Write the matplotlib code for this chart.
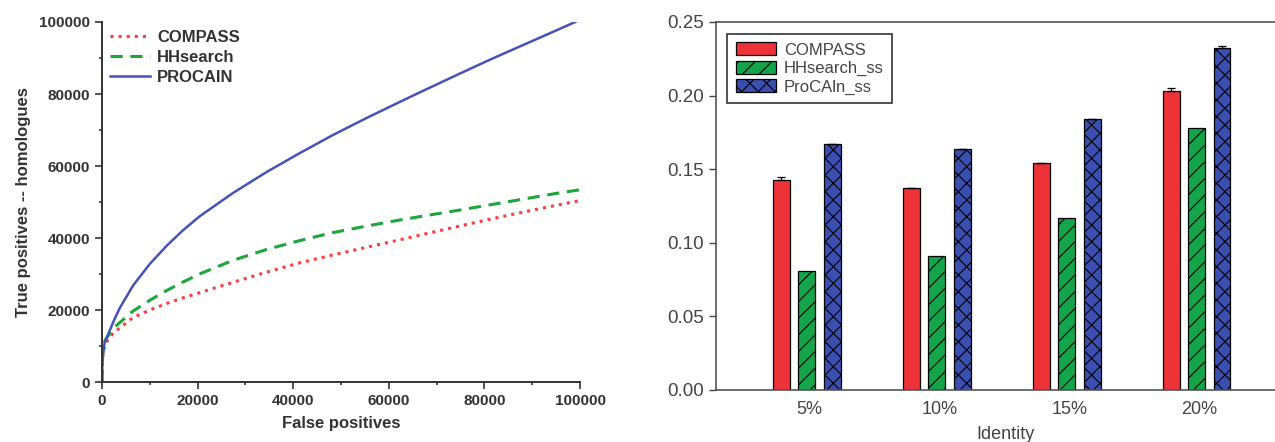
import numpy as np
import matplotlib
matplotlib.use('Agg')
import matplotlib.pyplot as plt
from matplotlib.ticker import MultipleLocator

plt.rcParams['font.family'] = ['Liberation Sans', 'DejaVu Sans']
plt.rcParams['hatch.linewidth'] = 0.8

# left panel: ROC-like curves
compass_fp = [0, 100, 600, 2300, 3700, 6500, 10000, 13500, 17000, 20400, 27400, 34400,
              41400, 48300, 55300, 62300, 67200, 74100, 81100, 88100, 95100, 100000]
compass_tp = [0, 6500, 10500, 13500, 15000, 17900, 20000, 21800, 23400, 24800, 27700, 30500,
              33100, 35300, 37400, 39500, 41000, 43100, 45200, 47200, 49100, 50400]

hhsearch_fp = [0, 100, 600, 2300, 3700, 6500, 10000, 13500, 17000, 20400, 27400, 34400,
               41400, 48300, 55300, 62300, 67200, 74100, 81100, 88100, 95100, 100000]
hhsearch_tp = [0, 7000, 11500, 14800, 16500, 19700, 22700, 25400, 27800, 30000, 33800, 36800,
               39300, 41500, 43300, 45000, 46100, 47600, 49200, 50800, 52400, 53400]

procain_fp = [0, 100, 560, 2300, 3700, 6500, 10000, 13500, 16900, 20400, 27400, 34400,
              41400, 48300, 55300, 62300, 67200, 74100, 81100, 88100, 95100, 99000]
procain_tp = [0, 7000, 10900, 16500, 20500, 26800, 32800, 37800, 42100, 46000, 52500, 58300,
              63600, 68600, 73300, 77800, 80900, 85200, 89500, 93600, 97700, 100000]

# right panel: bar chart
identity = ['5%', '10%', '15%', '20%']
compass_bar = [0.143, 0.137, 0.154, 0.203]
compass_err = [0.0015, 0.0, 0.0, 0.002]
hhsearch_ss = [0.081, 0.091, 0.117, 0.178]
procaln_ss = [0.167, 0.164, 0.184, 0.232]
procaln_err = [0.0, 0.0, 0.0, 0.0015]

text_col = '#333333'

fig = plt.figure(figsize=(12.75, 4.42), dpi=100)

# ---- left ----
ax1 = fig.add_axes([102 / 1275, 60 / 442, 478 / 1275, 360 / 442])
ax1.plot(compass_fp, compass_tp, ':', color='#ff3b3b', lw=2.2, label='COMPASS')
ax1.plot(hhsearch_fp, hhsearch_tp, '--', color='#1ea53c', lw=2.2, dashes=(4, 2.5), label='HHsearch')
ax1.plot(procain_fp, procain_tp, '-', color='#4653b5', lw=1.8, label='PROCAIN')
ax1.set_xlim(0, 100000)
ax1.set_ylim(0, 100000)
ax1.xaxis.set_major_locator(MultipleLocator(20000))
ax1.yaxis.set_major_locator(MultipleLocator(20000))
ax1.xaxis.set_minor_locator(MultipleLocator(10000))
ax1.yaxis.set_minor_locator(MultipleLocator(10000))
ax1.tick_params(which='major', direction='out', length=5, width=1.2, colors='#333333',
                labelsize=11)
ax1.tick_params(which='minor', direction='out', length=2.5, width=1.2, color='#333333')
for lab in ax1.get_xticklabels() + ax1.get_yticklabels():
    lab.set_fontweight('bold')
ax1.spines['top'].set_visible(False)
ax1.spines['right'].set_visible(False)
for s in ['left', 'bottom']:
    ax1.spines[s].set_linewidth(1.4)
    ax1.spines[s].set_color('#333333')
ax1.set_xlabel('False positives', fontsize=12, fontweight='bold', color=text_col, labelpad=6)
ax1.set_ylabel('True positives -- homologues', fontsize=12, fontweight='bold', color=text_col,
               labelpad=6)
leg1 = ax1.legend(loc='upper left', bbox_to_anchor=(0.0, 1.0), frameon=False, fontsize=12,
                  handlelength=2.4, handletextpad=0.4, labelspacing=0.3, borderaxespad=0.1)
for t in leg1.get_texts():
    t.set_fontweight('bold')
    t.set_color(text_col)

# ---- right ----
ax2 = fig.add_axes([716 / 1275, 52 / 442, 578 / 1275, 368 / 442])
x = np.arange(1, len(identity) + 1)
w = 0.13
step = 0.196
ax2.bar(x - step, compass_bar, w, color='#ee3338', edgecolor='black', lw=0.9,
        yerr=[[0] * 4, compass_err], capsize=3,
        error_kw={'elinewidth': 0.9, 'capthick': 0.9}, label='COMPASS')
ax2.bar(x, hhsearch_ss, w, color='#14a54a', edgecolor='black', lw=0.9, hatch='//',
        label='HHsearch_ss')
ax2.bar(x + step, procaln_ss, w, color='#3a4fb0', edgecolor='black', lw=0.9, hatch='xx',
        yerr=[[0] * 4, procaln_err], capsize=3,
        error_kw={'elinewidth': 0.9, 'capthick': 0.9}, label='ProCAln_ss')
ax2.set_xlim(0.3, 4.75)
ax2.set_ylim(0, 0.25)
ax2.yaxis.set_major_locator(MultipleLocator(0.05))
ax2.yaxis.set_major_formatter(matplotlib.ticker.FormatStrFormatter('%.2f'))
ax2.set_xticks(x + 0.02)
ax2.set_xticklabels(identity)
ax2.tick_params(axis='y', direction='out', length=5, width=1, colors='#444444', labelsize=13.5)
ax2.tick_params(axis='x', length=0, colors='#444444', labelsize=13, pad=8)
for s in ax2.spines.values():
    s.set_linewidth(1.2)
    s.set_color('#555555')
ax2.set_xlabel('Identity', fontsize=13, color='#444444', labelpad=6)
leg2 = ax2.legend(loc='upper left', bbox_to_anchor=(0.005, 0.99), fontsize=12, fancybox=False,
                  edgecolor='#333333', framealpha=1, handlelength=2.4, handleheight=0.8,
                  handletextpad=0.5, labelspacing=0.2, borderpad=0.5)
leg2.get_frame().set_linewidth(1.2)
for t in leg2.get_texts():
    t.set_color('#444444')

fig.savefig('out.png', dpi=100)
